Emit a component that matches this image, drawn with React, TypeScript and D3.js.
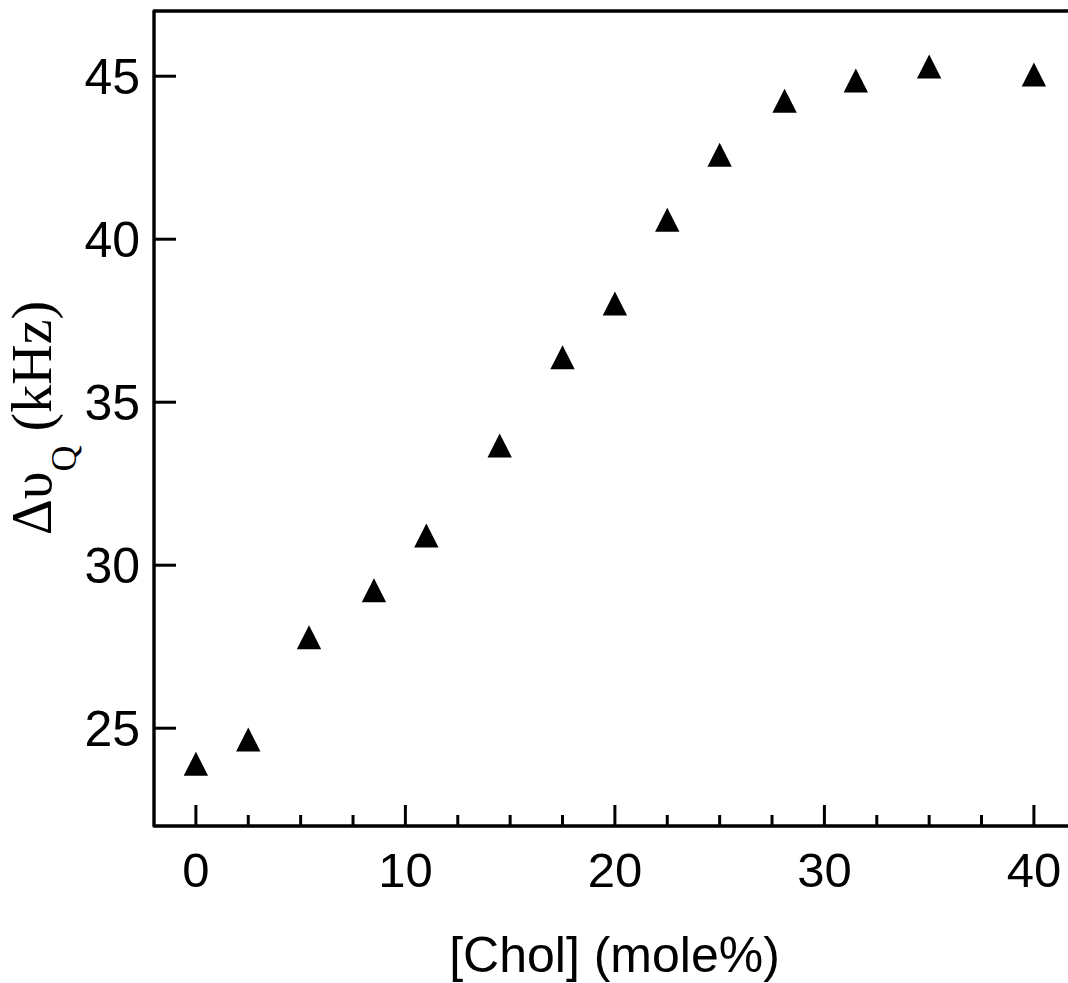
import React from "react";
import * as d3 from "d3";

const cholMolePct = [0, 2.5, 5.4, 8.5, 11, 14.5, 17.5, 20, 22.5, 25, 28.1, 31.5, 35, 40];
const deltaNuQ = [23.91, 24.65, 27.79, 29.23, 30.91, 33.67, 36.38, 38.03, 40.6, 42.59, 44.25, 44.87, 45.3, 45.05];
const xMajorTicks = [0, 10, 20, 30, 40];
const xMinorTicks = [2.5, 5, 7.5, 12.5, 15, 17.5, 22.5, 25, 27.5, 32.5, 35, 37.5];
const yMajorTicks = [25, 30, 35, 40, 45];

const W = 1068;
const H = 983;

export default function App() {
  const x = d3.scaleLinear().domain([-2, 42]).range([154, 154 + 44 * 20.95]);
  const y = d3.scaleLinear().domain([22, 47]).range([826, 11]);

  const tri = d3.path();
  tri.moveTo(0, -12);
  tri.lineTo(12.2, 12);
  tri.lineTo(-12.2, 12);
  tri.closePath();
  const triD = tri.toString();

  const x0 = x(-2);
  const xEnd = W + 10;
  const yTop = y(47);
  const yBot = y(22);

  const sans = "'Liberation Sans', Arial, Helvetica, sans-serif";
  const serif = "'Liberation Serif', 'Times New Roman', Times, serif";

  return (
    <svg
      width={W}
      height={H}
      style={{ position: "absolute", left: 0, top: 0, background: "#fff" }}
    >
      <rect x={0} y={0} width={W} height={H} fill="#fff" />
      {/* frame */}
      <path
        d={`M${xEnd},${yTop}L${x0},${yTop}L${x0},${yBot}L${xEnd},${yBot}`}
        fill="none"
        stroke="#000"
        strokeWidth={3.4}
        strokeLinejoin="round"
      />
      {/* x ticks */}
      {xMajorTicks.map((t) => (
        <line key={"xm" + t} x1={x(t)} x2={x(t)} y1={yBot} y2={yBot - 21} stroke="#000" strokeWidth={3} />
      ))}
      {xMinorTicks.map((t) => (
        <line key={"xn" + t} x1={x(t)} x2={x(t)} y1={yBot} y2={yBot - 11} stroke="#000" strokeWidth={3} />
      ))}
      {/* y ticks */}
      {yMajorTicks.map((t) => (
        <line key={"ym" + t} x1={x0} x2={x0 + 22} y1={y(t)} y2={y(t)} stroke="#000" strokeWidth={3} />
      ))}
      {/* x tick labels */}
      {xMajorTicks.map((t) => (
        <text key={"xl" + t} x={x(t)} y={887} textAnchor="middle" fontFamily={sans} fontSize={49} fill="#000">
          {t}
        </text>
      ))}
      {/* y tick labels */}
      {yMajorTicks.map((t) => (
        <text key={"yl" + t} x={140} y={y(t) + 18} textAnchor="end" fontFamily={sans} fontSize={50} fill="#000">
          {t}
        </text>
      ))}
      {/* x axis title */}
      <text x={614.5} y={972} textAnchor="middle" fontFamily={sans} fontSize={50} fill="#000">
        [Chol] (mole%)
      </text>
      {/* y axis title */}
      <text
        transform={`translate(51,418) rotate(-90)`}
        textAnchor="middle"
        fontFamily={serif}
        fontSize={56}
        fill="#000"
      >
        Δυ
        <tspan fontSize={36} dy={25}>Q</tspan>
        <tspan dy={-25}> (kHz)</tspan>
      </text>
      {/* points */}
      {cholMolePct.map((c, i) => (
        <path key={"p" + i} d={triD} transform={`translate(${x(c)},${y(deltaNuQ[i])})`} fill="#000" />
      ))}
    </svg>
  );
}
